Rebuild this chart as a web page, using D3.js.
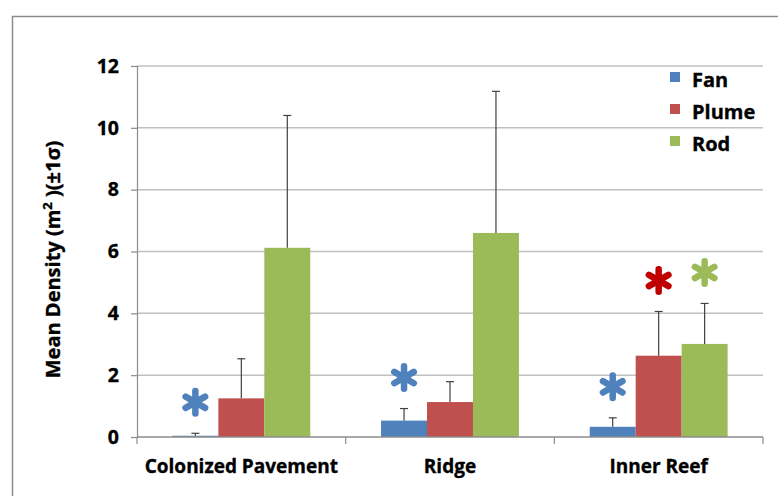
<!DOCTYPE html>
<html>
<head>
<meta charset="utf-8">
<script src="https://cdn.jsdelivr.net/npm/d3@7"></script>
<style>
  html, body { margin: 0; padding: 0; background: #fff; }
  svg { display: block; font-family: "Open Sans", "DejaVu Sans", sans-serif; }
</style>
</head>
<body>
<svg id="chart" width="778" height="496"></svg>
<script>
// Sites along the x axis
const categories = ["Colonized Pavement", "Ridge", "Inner Reef"];
// Morphotypes (series)
const series = ["Fan", "Plume", "Rod"];
// Mean density per site, one array per morphotype
const fanMean   = [0.04, 0.53, 0.33];
const plumeMean = [1.25, 1.13, 2.63];
const rodMean   = [6.12, 6.60, 3.01];
// Upper end of the ±1σ error bar per site
const fanUpper   = [0.12, 0.92, 0.62];
const plumeUpper = [2.53, 1.79, 4.06];
const rodUpper   = [10.40, 11.18, 4.32];
// Significant differences flagged with an asterisk: [site, morphotype]
const significant = [
  ["Colonized Pavement", "Fan"],
  ["Ridge", "Fan"],
  ["Inner Reef", "Fan"],
  ["Inner Reef", "Plume"],
  ["Inner Reef", "Rod"]
];
const yTicks = [0, 2, 4, 6, 8, 10, 12];

const colors = { Fan: "#4F81BD", Plume: "#C0504D", Rod: "#9BBB59" };
const starColors = { Fan: "#4F81BD", Plume: "#C00000", Rod: "#9BBB59" };

const means = { Fan: fanMean, Plume: plumeMean, Rod: rodMean };
const uppers = { Fan: fanUpper, Plume: plumeUpper, Rod: rodUpper };

const rows = [];
categories.forEach((c, i) => {
  series.forEach(s => rows.push({ cat: c, s, v: means[s][i], hi: uppers[s][i] }));
});

const svg = d3.select("#chart");
const m = { left: 137, right: 763, top: 66, bottom: 437 };

// Outer chart-area frame
svg.append("rect")
  .attr("x", 12.5).attr("y", 16.5)
  .attr("width", 820).attr("height", 520)
  .attr("fill", "none").attr("stroke", "#8c8c8c").attr("stroke-width", 1.5);

const x0 = d3.scaleBand().domain(categories).range([m.left, m.right]).paddingInner(0).paddingOuter(0);
const x1 = d3.scaleBand().domain(series).range([0, x0.bandwidth()]).paddingInner(0).paddingOuter(0.77);
const y = d3.scaleLinear().domain([0, 12]).range([m.bottom, m.top]);

// Horizontal gridlines
svg.append("g")
  .selectAll("line")
  .data(yTicks.filter(t => t > 0))
  .join("line")
  .attr("x1", m.left).attr("x2", m.right)
  .attr("y1", d => y(d)).attr("y2", d => y(d))
  .attr("stroke", "#c0c0c0").attr("stroke-width", 1.5);

// Bold labels get a hairline outline for a heavier face
const heavy = sel => sel.attr("fill", "#000").attr("stroke", "#000").attr("stroke-width", 0.35)
  .attr("font-weight", 700).attr("font-family", "Open Sans");

// Y axis
const yAxis = svg.append("g")
  .attr("transform", `translate(${m.left},0)`)
  .call(d3.axisLeft(y).tickValues(yTicks).tickSize(6).tickPadding(12));
yAxis.select(".domain").attr("stroke", "#8c8c8c").attr("stroke-width", 1.2);
yAxis.selectAll(".tick line").attr("stroke", "#8c8c8c").attr("stroke-width", 1.2);
yAxis.selectAll(".tick text").attr("font-size", 19.5).call(heavy);

// Bars
svg.append("g")
  .selectAll("rect")
  .data(rows)
  .join("rect")
  .attr("x", d => x0(d.cat) + x1(d.s))
  .attr("y", d => y(d.v))
  .attr("width", x1.bandwidth())
  .attr("height", d => y(0) - y(d.v))
  .attr("fill", d => colors[d.s]);

// Error bars (upper only)
const eb = svg.append("g").attr("stroke", "#404040").attr("stroke-width", 1.2);
rows.forEach(d => {
  const cx = x0(d.cat) + x1(d.s) + x1.bandwidth() / 2;
  eb.append("line").attr("x1", cx).attr("x2", cx).attr("y1", y(d.v)).attr("y2", y(d.hi));
  eb.append("line").attr("x1", cx - 4).attr("x2", cx + 4).attr("y1", y(d.hi)).attr("y2", y(d.hi));
});

// X axis
const xAxisY = y(0);
svg.append("line")
  .attr("x1", m.left).attr("x2", m.right)
  .attr("y1", xAxisY).attr("y2", xAxisY)
  .attr("stroke", "#8c8c8c").attr("stroke-width", 1.5);
const xTickPos = categories.map(c => x0(c)).concat([m.right]);
svg.append("g").selectAll("line")
  .data(xTickPos).join("line")
  .attr("x1", d => d).attr("x2", d => d)
  .attr("y1", xAxisY).attr("y2", xAxisY + 7)
  .attr("stroke", "#8c8c8c").attr("stroke-width", 1.2);
svg.append("g").selectAll("text")
  .data(categories).join("text")
  .attr("x", d => x0(d) + x0.bandwidth() / 2)
  .attr("y", 473)
  .attr("text-anchor", "middle")
  .attr("font-size", 19)
  .call(heavy)
  .text(d => d);

// Y axis title
svg.append("text")
  .attr("transform", `translate(60,${(m.top + m.bottom) / 2 + 8}) rotate(-90)`)
  .attr("text-anchor", "middle")
  .attr("font-size", 20)
  .call(heavy)
  .call(t => {
    t.append("tspan").text("Mean Density (m");
    t.append("tspan").attr("font-size", 13).attr("dy", -8).text("2");
    t.append("tspan").attr("dy", 8).text(" )(±1σ)");
  });

// Significance asterisks above the error bars
const star = d3.symbol().type(d3.symbolAsterisk).size(360);
svg.append("g").selectAll("path")
  .data(significant)
  .join("path")
  .attr("d", star)
  .attr("transform", ([c, s]) => {
    const i = categories.indexOf(c);
    const cx = x0(c) + x1(s) + x1.bandwidth() / 2;
    return `translate(${cx},${y(uppers[s][i]) - 31})`;
  })
  .attr("fill", "none")
  .attr("stroke", ([, s]) => starColors[s])
  .attr("stroke-width", 6.5)
  .attr("stroke-linecap", "round");

// Legend
const lg = svg.append("g").attr("transform", "translate(670,72)");
series.forEach((s, i) => {
  const g = lg.append("g").attr("transform", `translate(0,${i * 32})`);
  g.append("rect").attr("width", 10).attr("height", 10).attr("fill", colors[s]);
  g.append("text").attr("x", 22).attr("y", 14.5)
    .attr("font-size", 20).call(heavy).text(s);
});
</script>
</body>
</html>
